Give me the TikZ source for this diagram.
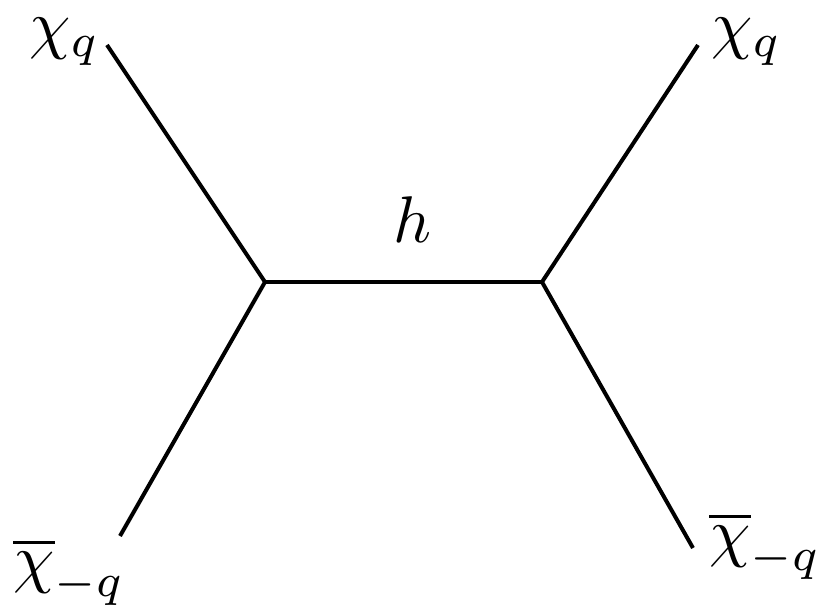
\documentclass[tikz,border=0pt]{standalone}
\usepackage{amsmath}
\begin{document}
\begin{tikzpicture}[x=1pt,y=-1pt,
  prop/.style={line width=4pt,line cap=butt},
  lab/.style={inner sep=0pt,anchor=base west,scale=6.6,transform shape}]
\useasboundingbox (0,0) rectangle (820,615);
\coordinate (vl) at (265,282);
\coordinate (vr) at (542,282);
\coordinate (etl) at (107,45);
\coordinate (etr) at (698,45);
\coordinate (ebl) at (120,536);
\coordinate (ebr) at (693,548);
\draw[prop] (etl) -- (vl);
\draw[prop] (vl) -- (ebl);
\draw[prop] (vl) -- (vr);
\draw[prop] (vr) -- (etr);
\draw[prop] (vr) -- (ebr);
\node[lab] (ltl) at (28,47) {$\chi_q$};
\node[lab] (ltr) at (710,47) {$\chi_q$};
\node[lab] (lh) at (392,242) {$h$};
\node[lab] (lbl) at (12,580) {$\overline{\chi}_{-q}$};
\node[lab] (lbr) at (708,554) {$\overline{\chi}_{-q}$};
\end{tikzpicture}
\end{document}
